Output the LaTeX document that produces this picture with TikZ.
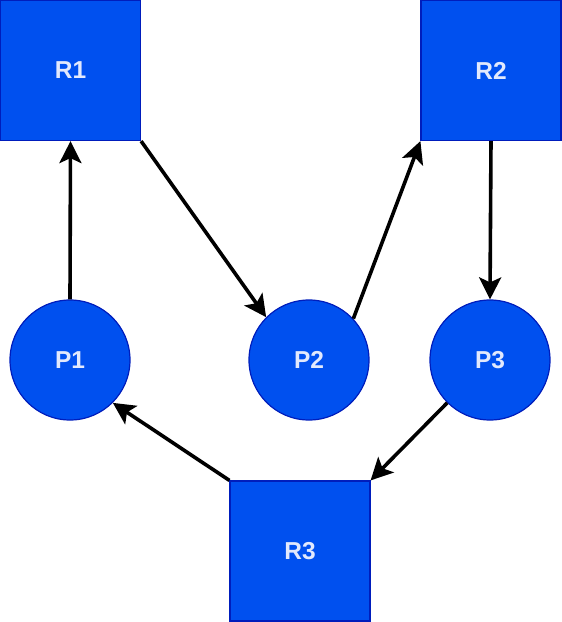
\documentclass[tikz,border=0pt]{standalone}
\usepackage{fontspec}
\setmainfont{Liberation Sans}
\usetikzlibrary{arrows.meta}
\definecolor{boxfill}{HTML}{0050EF}
\definecolor{boxline}{HTML}{001DBC}
\definecolor{labeltext}{HTML}{E2E9FD}
\tikzset{
  res/.style={draw=boxline, fill=boxfill, line width=1.2pt, minimum size=140pt, inner sep=0pt, text=labeltext, font=\fontsize{24.5}{27}\selectfont\bfseries},
  proc/.style={circle, draw=boxline, fill=boxfill, line width=1.2pt, minimum size=120pt, inner sep=0pt, text=labeltext, font=\fontsize{24.5}{27}\selectfont\bfseries},
  conn/.style={line width=3.6pt, -{Stealth[length=22pt, width=22pt, inset=5pt]}}
}
\begin{document}
\begin{tikzpicture}[x=1pt, y=-1pt]
\useasboundingbox (0,0) rectangle (562,622);
\node[res] (R1) at (70.5,70.5) {R1};
\node[res] (R2) at (491,70.5) {R2};
\node[res] (R3) at (300,551) {R3};
\node[proc] (P1) at (70,360) {P1};
\node[proc] (P2) at (309,360) {P2};
\node[proc] (P3) at (490,360) {P3};
\draw[conn] (P1.north) -- (R1.south);
\draw[conn] (R1.south east) -- (P2.135);
\draw[conn] (P2.43) -- (R2.south west);
\draw[conn] (R2.south) -- (P3.north);
\draw[conn] (P3.225) -- (R3.north east);
\draw[conn] (R3.north west) -- (P1.-45);
\end{tikzpicture}
\end{document}
